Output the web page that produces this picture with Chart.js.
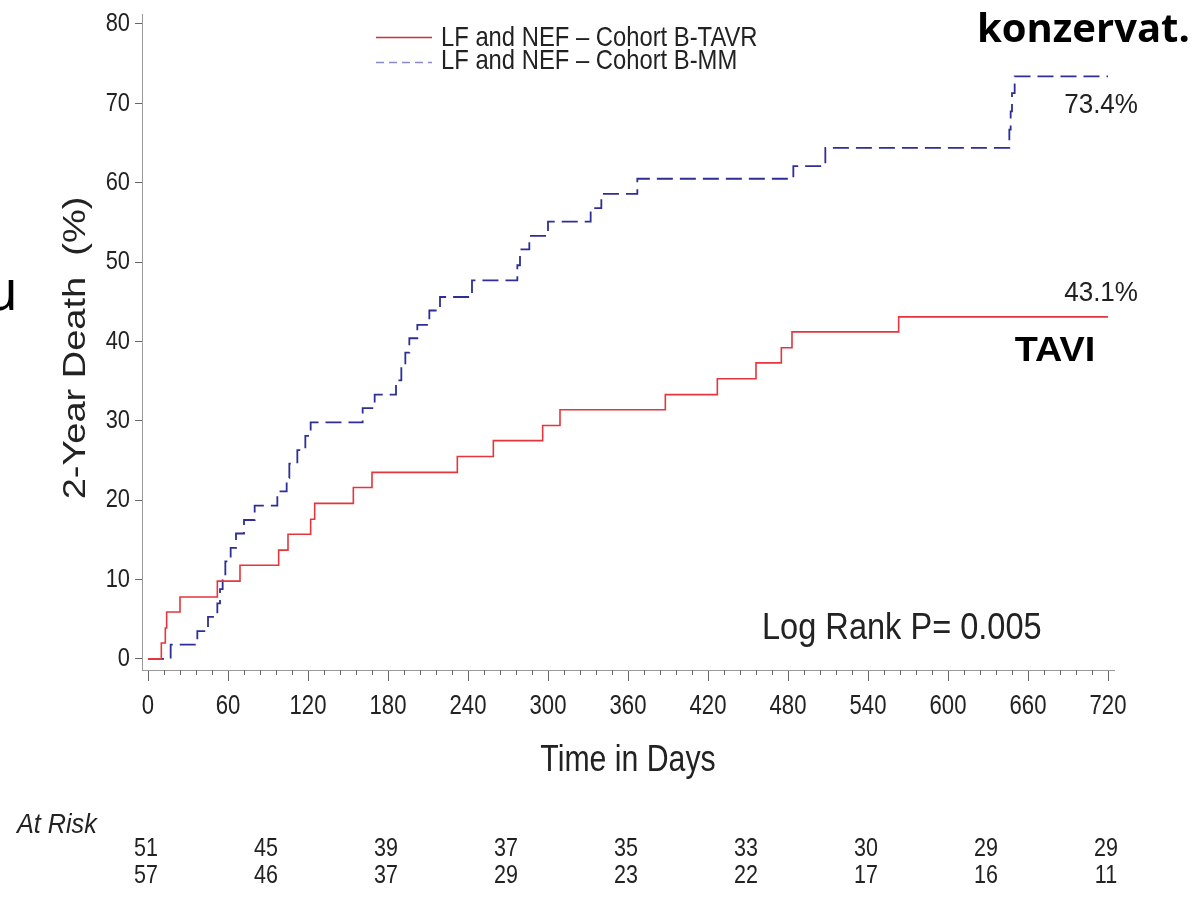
<!DOCTYPE html>
<html>
<head>
<meta charset="utf-8">
<title>2-Year Death</title>
<script src="https://cdn.jsdelivr.net/npm/chart.js@4/dist/chart.umd.min.js"></script>
<style>
  html, body { margin: 0; padding: 0; background: #fff; }
  #grafico { display: block; }
</style>
</head>
<body>
<canvas id="grafico" width="1201" height="898"></canvas>
<script>
// Kaplan-Meier data (days, cumulative death %)
const tavrDays = [0, 10, 13, 14, 24, 52, 69, 98, 105, 122, 125, 154, 168, 232, 259, 296, 309, 388, 427, 456, 475, 483, 563, 720];
const tavrPct  = [0, 2.0, 3.9, 5.9, 7.8, 9.8, 11.8, 13.7, 15.7, 17.6, 19.6, 21.6, 23.5, 25.5, 27.5, 29.4, 31.4, 33.3, 35.3, 37.3, 39.2, 41.2, 43.1, 43.1];

const mmDays = [0, 17, 37, 45, 52, 54, 56, 58, 62, 66, 72, 80, 97, 104, 106, 112, 118, 122, 161, 170, 186, 190, 193, 196, 202, 211, 219, 243, 277, 279, 286, 300, 332, 340, 367, 484, 508, 646, 647, 648, 650, 720];
const mmPct  = [0, 1.8, 3.5, 5.3, 7.0, 8.8, 10.5, 12.3, 14.0, 15.8, 17.5, 19.3, 21.1, 22.8, 24.6, 26.3, 28.1, 29.8, 31.6, 33.3, 35.1, 36.8, 38.6, 40.4, 42.1, 43.9, 45.6, 47.7, 49.6, 51.6, 53.3, 55.1, 56.8, 58.6, 60.5, 62.1, 64.4, 66.7, 69.0, 71.3, 73.4, 73.4];

const xTicks = [0, 60, 120, 180, 240, 300, 360, 420, 480, 540, 600, 660, 720];
const yTicks = [0, 10, 20, 30, 40, 50, 60, 70, 80];

const riskDays = [0, 90, 180, 270, 360, 450, 540, 630, 720];
const riskTavr = [51, 45, 39, 37, 35, 33, 30, 29, 29];
const riskMM   = [57, 46, 37, 29, 23, 22, 17, 16, 11];

const labelTavr = 'LF and NEF \u2013 Cohort B-TAVR';
const labelMM   = 'LF and NEF \u2013 Cohort B-MM';

const SANS = '"Liberation Sans", Arial, sans-serif';
const RED = '#e4363c';
const BLUE = '#2e2e96';

function toPoints(days, pct) {
    return days.map((d, i) => ({ x: d, y: pct[i] }));
}

// text with horizontal squeeze (the original picture is narrow)
function texto(ctx, s, x, y, font, align, sx, cor) {
    ctx.save();
    ctx.translate(x, y);
    ctx.scale(sx, 1);
    ctx.font = font;
    ctx.textAlign = align;
    ctx.textBaseline = 'middle';
    ctx.fillStyle = cor || '#222';
    ctx.fillText(s, 0, 0);
    ctx.restore();
}

const extras = {
    id: 'extras',
    beforeDraw(chart) {
        const ctx = chart.ctx;
        ctx.save();
        ctx.fillStyle = '#fff';
        ctx.fillRect(0, 0, chart.width, chart.height);
        ctx.restore();
    },
    afterDraw(chart) {
        const ctx = chart.ctx;
        const xs = chart.scales.x;
        const ys = chart.scales.y;
        const area = chart.chartArea;

        // minor ticks on x
        ctx.save();
        ctx.strokeStyle = '#666';
        ctx.lineWidth = 1;
        for (let v = 0; v <= 720; v += 12) {
            if (v % 60 === 0) continue;
            const px = Math.round(xs.getPixelForValue(v)) + 0.5;
            ctx.beginPath();
            ctx.moveTo(px, area.bottom);
            ctx.lineTo(px, area.bottom + 5);
            ctx.stroke();
        }
        ctx.restore();

        // tick labels
        xTicks.forEach(v => {
            texto(ctx, String(v), xs.getPixelForValue(v), 706, '28px ' + SANS, 'center', 0.79);
        });
        yTicks.forEach(v => {
            texto(ctx, String(v), 130, ys.getPixelForValue(v), '26px ' + SANS, 'right', 0.84);
        });

        // axis titles
        texto(ctx, 'Time in Days', 628, 761, '36px ' + SANS, 'center', 0.84);
        ctx.save();
        ctx.translate(76, 348);
        ctx.scale(0.82, 1);
        ctx.rotate(-Math.PI / 2);
        ctx.font = '38px ' + SANS;
        ctx.textAlign = 'center';
        ctx.textBaseline = 'middle';
        ctx.fillStyle = '#222';
        ctx.fillText('2-Year Death  (%)', 0, 0);
        ctx.restore();

        // legend
        ctx.save();
        ctx.lineWidth = 1.6;
        ctx.strokeStyle = '#c8323c';
        ctx.beginPath();
        ctx.moveTo(376, 37.5);
        ctx.lineTo(432, 37.5);
        ctx.stroke();
        ctx.strokeStyle = '#8a8ad0';
        ctx.setLineDash([8, 5]);
        ctx.beginPath();
        ctx.moveTo(376, 62.5);
        ctx.lineTo(432, 62.5);
        ctx.stroke();
        ctx.restore();
        texto(ctx, labelTavr, 441, 38, '28px ' + SANS, 'left', 0.85);
        texto(ctx, labelMM, 441, 61, '28px ' + SANS, 'left', 0.85);

        // end values and p-value
        texto(ctx, mmPct[mmPct.length - 1].toFixed(1) + '%', 1138, 105, '28px ' + SANS, 'right', 0.93);
        texto(ctx, tavrPct[tavrPct.length - 1].toFixed(1) + '%', 1138, 293, '28px ' + SANS, 'right', 0.93);
        texto(ctx, 'Log Rank P= 0.005', 762, 629, '37px ' + SANS, 'left', 0.88);

        // at risk table
        texto(ctx, 'At Risk', 17, 825, 'italic 28px ' + SANS, 'left', 0.9);
        riskDays.forEach((d, i) => {
            const px = xs.getPixelForValue(d) - 2;
            texto(ctx, String(riskTavr[i]), px, 849, '25px ' + SANS, 'center', 0.86);
            texto(ctx, String(riskMM[i]), px, 876, '25px ' + SANS, 'center', 0.86);
        });

        // slide overlay labels
        ctx.save();
        ctx.fillStyle = '#000';
        ctx.textBaseline = 'alphabetic';
        ctx.font = 'bold 40px "Open Sans", sans-serif';
        ctx.textAlign = 'left';
        ctx.fillText('konzervat.', 977, 42);
        ctx.font = '56px "Open Sans", sans-serif';
        ctx.textAlign = 'right';
        ctx.fillText('u', 18, 310);
        ctx.restore();
        texto(ctx, 'TAVI', 1055, 351, 'bold 35px ' + SANS, 'center', 1.08, '#000');
    }
};

const ctx = document.getElementById('grafico');
new Chart(ctx, {
    type: 'line',
    data: {
        datasets: [{
            label: labelTavr,
            data: toPoints(tavrDays, tavrPct),
            borderColor: RED,
            borderWidth: 1.6,
            stepped: 'before',
            pointRadius: 0,
            fill: false
        }, {
            label: labelMM,
            data: toPoints(mmDays, mmPct),
            borderColor: BLUE,
            borderWidth: 1.8,
            borderDash: [16, 7],
            stepped: 'before',
            pointRadius: 0,
            fill: false
        }]
    },
    options: {
        responsive: false,
        animation: false,
        devicePixelRatio: 1,
        layout: { padding: { left: 0, right: 87, top: 14, bottom: 0 } },
        plugins: {
            legend: { display: false },
            tooltip: { enabled: false }
        },
        scales: {
            x: {
                type: 'linear',
                min: -4.5,
                max: 724.5,
                afterBuildTicks: s => { s.ticks = xTicks.map(v => ({ value: v })); },
                afterFit: s => { s.height = 228; },
                ticks: { display: false },
                grid: { drawOnChartArea: false, drawTicks: true, tickLength: 11, tickColor: '#666' },
                border: { display: true, color: '#999', width: 1 }
            },
            y: {
                type: 'linear',
                min: -1.4,
                max: 81.26,
                afterBuildTicks: s => { s.ticks = yTicks.map(v => ({ value: v })); },
                afterFit: s => { s.width = 142; },
                ticks: { display: false },
                grid: { drawOnChartArea: false, drawTicks: true, tickLength: 7, tickColor: '#666' },
                border: { display: true, color: '#999', width: 1 }
            }
        }
    },
    plugins: [extras]
});
</script>
</body>
</html>
